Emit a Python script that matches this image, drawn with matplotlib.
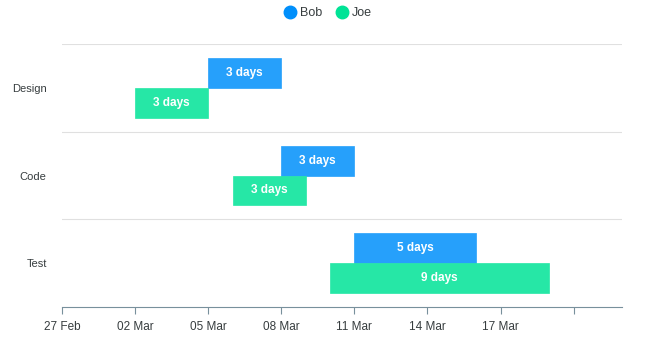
import datetime as dt
import matplotlib
matplotlib.use("Agg")
import matplotlib.pyplot as plt
import matplotlib.dates as mdates
from matplotlib.lines import Line2D

tasks = ["Design", "Code", "Test"]
bob_start = ["2019-03-05", "2019-03-08", "2019-03-11"]
bob_end = ["2019-03-08", "2019-03-11", "2019-03-16"]
joe_start = ["2019-03-02", "2019-03-06", "2019-03-10"]
joe_end = ["2019-03-05", "2019-03-09", "2019-03-19"]
tick_dates = ["2019-02-27", "2019-03-02", "2019-03-05", "2019-03-08",
              "2019-03-11", "2019-03-14", "2019-03-17", "2019-03-20"]
tick_labels = ["27 Feb", "02 Mar", "05 Mar", "08 Mar", "11 Mar", "14 Mar", "17 Mar", ""]


def d(s):
    return mdates.date2num(dt.datetime.strptime(s, "%Y-%m-%d"))


plt.rcParams["font.family"] = ["Liberation Sans", "DejaVu Sans"]
fig = plt.figure(figsize=(6.5, 3.5), dpi=100)
ax = fig.add_axes([0.0954, 0.123, 0.862, 0.751])

series = [("Bob", bob_start, bob_end, "#26A0FB", "#008FFB", -0.17),
          ("Joe", joe_start, joe_end, "#26E7A6", "#00E396", 0.17)]
h = 0.34
for name, st, en, fill, solid, off in series:
    for i in range(len(tasks)):
        s, e = d(st[i]), d(en[i])
        ax.barh(i + off, e - s, left=s, height=h, color=fill, edgecolor=fill, linewidth=0.5)
        ax.text((s + e) / 2, i + off, "%d days" % round(e - s), color="white",
                ha="center", va="center", fontsize=8.5, fontweight="bold")

ax.set_ylim(2.5, -0.5)
ax.set_yticks(range(len(tasks)))
ax.set_yticklabels(tasks, fontsize=8, color="#373d3f")
ax.tick_params(axis="y", length=0, pad=11)
for yy in [-0.5, 0.5, 1.5]:
    ax.axhline(yy, color="#e0e0e0", linewidth=0.8, zorder=0)

ax.set_xlim(d("2019-02-27"), d("2019-03-22"))
ax.set_xticks([d(t) for t in tick_dates])
ax.set_xticklabels(tick_labels, fontsize=8.5, color="#373d3f")
ax.tick_params(axis="x", length=5, color="#78909C", pad=5)

for sp in ["top", "right", "left"]:
    ax.spines[sp].set_visible(False)
ax.spines["bottom"].set_color("#78909C")

handles = [Line2D([], [], marker="o", linestyle="", markersize=9, color=c[4]) for c in series]
fig.legend(handles, [c[0] for c in series], loc="center", bbox_to_anchor=(0.5, 0.963),
           ncol=2, frameon=False, fontsize=9, handletextpad=-0.2, columnspacing=0.55,
           labelcolor="#373d3f")

fig.savefig("out.png", dpi=100)
